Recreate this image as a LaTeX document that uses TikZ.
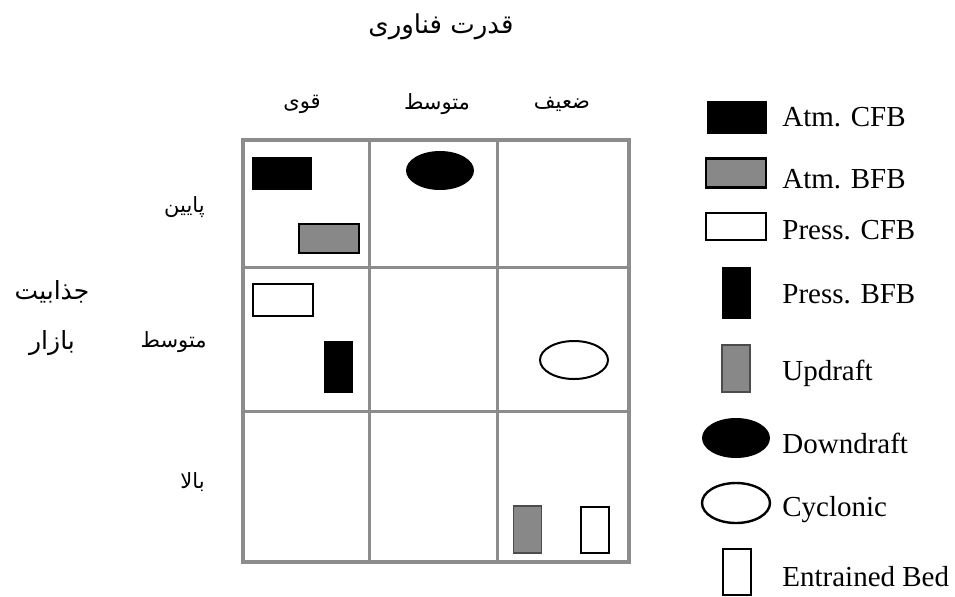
\documentclass[tikz,border=0pt]{standalone}
\usepackage{fontspec}
\setmainfont{Liberation Serif}
\newfontfamily\farsi[Script=Arabic]{DejaVu Sans}
\TeXXeTstate=1
\usetikzlibrary{shapes.geometric}
\definecolor{gridgray}{HTML}{8C8C8C}
\definecolor{fillgray}{HTML}{888888}
\newcommand{\fa}[1]{\farsi\beginR #1\endR}

\begin{document}
\begin{tikzpicture}[x=0.5pt, y=-0.5pt,
  symb/.style={inner sep=0pt, outer sep=0pt},
  atmcfb/.style={symb, fill=black, minimum width=30pt, minimum height=16.5pt},
  atmbfb/.style={symb, fill=fillgray, draw=black, line width=1.2pt, minimum width=30pt, minimum height=14.5pt},
  prcfb/.style={symb, fill=white, draw=black, line width=1pt, minimum width=30pt, minimum height=16pt},
  prbfb/.style={symb, fill=black, minimum width=14.5pt, minimum height=26pt},
  updraft/.style={symb, fill=fillgray, draw=black!70, line width=0.6pt, minimum width=14pt, minimum height=23.5pt},
  downdraft/.style={symb, ellipse, fill=black, minimum width=34pt, minimum height=19.5pt},
  cyclonic/.style={symb, ellipse, draw=black, line width=1pt, minimum width=34pt, minimum height=19pt},
  entrained/.style={symb, fill=white, draw=black, line width=1pt, minimum width=14pt, minimum height=23pt},
  legtext/.style={anchor=base west, inner sep=0pt, font=\fontsize{14.5}{17}\selectfont},
  fatext/.style={inner sep=0pt, font=\fontsize{10.5}{12}\selectfont},
  fabig/.style={fatext, font=\fontsize{12.5}{14}\selectfont},
  grid/.style={draw=gridgray, line width=1.5pt}]
  \useasboundingbox (0,0) rectangle (955,596);

  % axis titles
  \node[fatext, font=\fontsize{13}{15}\selectfont] (tech) at (441,27) {\fa{قدرت فناوری}};
  \node[fatext] (colstrong) at (302,104) {\fa{قوی}};
  \node[fatext] (colmid) at (437,104) {\fa{متوسط}};
  \node[fatext] (colweak) at (562,104) {\fa{ضعیف}};
  \node[fatext, anchor=east] (rowlow) at (205,207) {\fa{پایین}};
  \node[fatext, anchor=east] (rowmid) at (207,342) {\fa{متوسط}};
  \node[fatext, anchor=east] (rowhigh) at (205,482) {\fa{بالا}};
  \node[fabig] (market1) at (52,292) {\fa{جذابیت}};
  \node[fabig] (market2) at (52,343) {\fa{بازار}};

  % matrix
  \draw[grid, line width=2pt] (243,140) rectangle (629,562);
  \foreach \x in {369,497} \draw[grid] (\x,140) -- (\x,562);
  \foreach \y in {267,411} \draw[grid] (243,\y) -- (629,\y);

  % cells
  \node[atmcfb] (c11a) at (282,173.5) {};
  \node[atmbfb] (c11b) at (329,238.5) {};
  \node[downdraft] (c12) at (440,170.5) {};
  \node[prcfb] (c21a) at (282.5,300) {};
  \node[prbfb] (c21b) at (338.5,367) {};
  \node[cyclonic] (c23) at (574,360) {};
  \node[updraft] (c33a) at (527.5,529.5) {};
  \node[entrained] (c33b) at (594.5,529.5) {};

  % legend
  \node[atmcfb] (k1) at (736.5,117) {};
  \node[atmbfb] (k2) at (736,173) {};
  \node[prcfb, minimum height=13.5pt] (k3) at (736,226.5) {};
  \node[prbfb] (k4) at (736,293) {};
  \node[updraft] (k5) at (736,368.5) {};
  \node[downdraft, minimum height=20pt] (k6) at (736,438) {};
  \node[cyclonic, minimum height=20pt, line width=1.2pt] (k7) at (736,503) {};
  \node[entrained] (k8) at (736.5,572) {};
  \node[legtext] (t1) at (782,126) {Atm. CFB};
  \node[legtext] (t2) at (782,188) {Atm. BFB};
  \node[legtext] (t3) at (782,239) {Press. CFB};
  \node[legtext] (t4) at (782,303) {Press. BFB};
  \node[legtext] (t5) at (782,380) {Updraft};
  \node[legtext] (t6) at (782,453) {Downdraft};
  \node[legtext] (t7) at (782,516) {Cyclonic};
  \node[legtext] (t8) at (782,586) {Entrained Bed};
\end{tikzpicture}
\end{document}
